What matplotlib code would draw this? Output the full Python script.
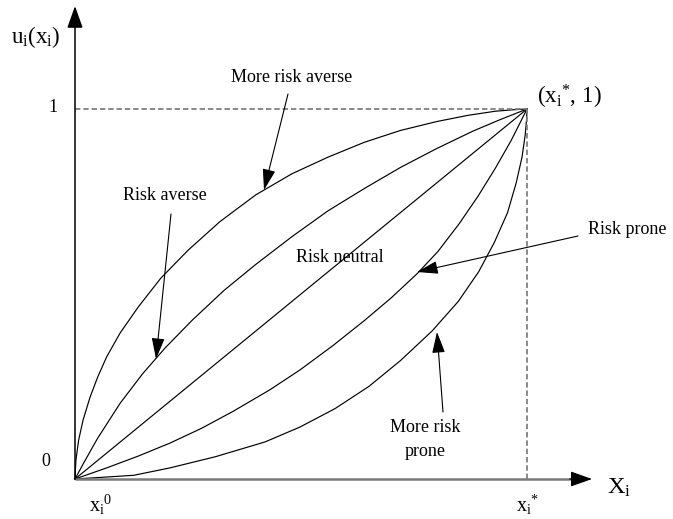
import matplotlib
matplotlib.use("Agg")
import matplotlib.pyplot as plt

plt.rcParams['font.family'] = ['Liberation Serif', 'DejaVu Serif']
plt.rcParams['mathtext.fontset'] = 'custom'
plt.rcParams['mathtext.rm'] = 'Liberation Serif'
plt.rcParams['mathtext.it'] = 'Liberation Serif:italic'

# ---- data (normalised: x from x_i^0 = 0 to x_i^* = 1, utility 0..1) ----
more_averse_x = [0, 0.002, 0.008, 0.018, 0.033, 0.05, 0.07, 0.10, 0.14, 0.19, 0.25, 0.32,
                 0.40, 0.48, 0.56, 0.64, 0.72, 0.80, 0.87, 0.93, 0.97, 1.0]
more_averse_y = [0, 0.05, 0.105, 0.16, 0.22, 0.275, 0.33, 0.395, 0.465, 0.543, 0.618, 0.695,
                 0.768, 0.825, 0.870, 0.910, 0.942, 0.966, 0.983, 0.994, 0.998, 1.0]

averse_x = [0, 0.02, 0.05, 0.10, 0.15, 0.20, 0.26, 0.33, 0.40, 0.48, 0.56, 0.64, 0.72, 0.80,
            0.88, 0.94, 1.0]
averse_y = [0, 0.045, 0.11, 0.205, 0.285, 0.355, 0.43, 0.51, 0.58, 0.655, 0.725, 0.785, 0.842,
            0.893, 0.94, 0.971, 1.0]

neutral_x = [0, 1.0]
neutral_y = [0, 1.0]

prone_x = [0, 0.07, 0.14, 0.21, 0.28, 0.35, 0.431, 0.498, 0.57, 0.64, 0.70, 0.757, 0.803,
           0.85, 0.892, 0.93, 0.965, 1.0]
prone_y = [0, 0.03, 0.062, 0.097, 0.137, 0.183, 0.241, 0.295, 0.36, 0.428, 0.49, 0.555, 0.615,
           0.69, 0.765, 0.84, 0.915, 1.0]

more_prone_x = [0, 0.13, 0.21, 0.31, 0.42, 0.497, 0.575, 0.65, 0.72, 0.79, 0.848, 0.893, 0.928,
                0.957, 0.976, 0.989, 0.996, 0.999, 1.0]
more_prone_y = [0, 0.01, 0.03, 0.06, 0.10, 0.14, 0.19, 0.25, 0.32, 0.40, 0.48, 0.56, 0.64,
                0.72, 0.80, 0.87, 0.93, 0.97, 1.0]

curves = [(more_averse_x, more_averse_y), (averse_x, averse_y), (neutral_x, neutral_y),
          (prone_x, prone_y), (more_prone_x, more_prone_y)]

# ---- figure ----
W, H = 673, 519
fig = plt.figure(figsize=(W / 100, H / 100), dpi=100)
ax = fig.add_axes([0, 0, 1, 1])
X0, Y0, SX, SY = 75, 479, 452, 370   # pixel of origin and pixel size of unit
ax.set_xlim(-X0 / SX, (W - X0) / SX)
ax.set_ylim(-(H - Y0) / SY, Y0 / SY)
ax.axis('off')


def P(px, py):
    return ((px - X0) / SX, (Y0 - py) / SY)


# curves
for cx, cy in curves:
    ax.plot(cx, cy, color='black', lw=0.85, solid_joinstyle='round', solid_capstyle='round')

# dashed guides
ax.plot([0, 1], [1, 1], color='#808080', lw=1.3, ls=(0, (3, 1.6)))
ax.plot([1, 1], [0, 1], color='#808080', lw=1.3, ls=(0, (3, 1.6)))

# x axis (grey line + black head)
x_tip = P(592, 0)[0]
x_base = P(574, 0)[0]
ax.plot([0, x_base], [0, 0], color='#7a7a7a', lw=1.8, solid_capstyle='butt')
ax.annotate('', xy=(x_tip, 0), xytext=(x_base - 0.01, 0),
            arrowprops=dict(arrowstyle='-|>,head_length=1.35,head_width=0.48',
                            color='black', lw=0.8, shrinkA=0, shrinkB=0))
# y axis
y_tip = P(0, 6)[1]
ax.annotate('', xy=(0, y_tip), xytext=(0, 0),
            arrowprops=dict(arrowstyle='-|>,head_length=1.35,head_width=0.48',
                            color='black', lw=1.1, shrinkA=0, shrinkB=0))

# pointer arrows
ptr = dict(arrowstyle='-|>,head_length=1.3,head_width=0.4', color='black', lw=0.8,
           shrinkA=0, shrinkB=0)
fs = 13
ax.text(*P(292, 77), 'More risk averse', fontsize=fs, ha='center', va='center')
ax.annotate('', xy=P(264, 190), xytext=P(288, 94), arrowprops=ptr)
ax.text(*P(165, 195), 'Risk averse', fontsize=fs, ha='center', va='center')
ax.annotate('', xy=P(156, 359), xytext=P(171, 214), arrowprops=ptr)
ax.text(*P(340, 258), 'Risk neutral', fontsize=fs, ha='center', va='center')
ax.text(*P(627, 230), 'Risk prone', fontsize=fs, ha='center', va='center')
ax.annotate('', xy=P(417, 272), xytext=P(578, 236), arrowprops=ptr)
ax.text(*P(425, 427), 'More risk', fontsize=fs, ha='center', va='center')
ax.text(*P(425, 452), 'prone', fontsize=fs, ha='center', va='center')
ax.annotate('', xy=P(437, 332), xytext=P(443, 412), arrowprops=ptr)

# axis labels
big = 16.5
ax.text(*P(36, 37), r'$\mathrm{u_i(x_i)}$', fontsize=big, ha='center', va='center')
ax.text(*P(53, 107), '1', fontsize=fs, ha='center', va='center')
ax.text(*P(46, 462), '0', fontsize=fs, ha='center', va='center')
ax.text(*P(619, 488), r'$\mathrm{X_i}$', fontsize=big + 1, ha='center', va='center')
ax.text(*P(101, 505), r'$\mathrm{x_i}^{\mathrm{0}}$', fontsize=14.5, ha='center', va='center')
ax.text(*P(528, 505), r'$\mathrm{x_i}^{*}$', fontsize=14.5, ha='center', va='center')
ax.text(*P(537, 97), r'$\mathrm{(x_i}^{*}\mathrm{,\,1)}$', fontsize=big, ha='left', va='center')

fig.savefig('out.png', dpi=100)
